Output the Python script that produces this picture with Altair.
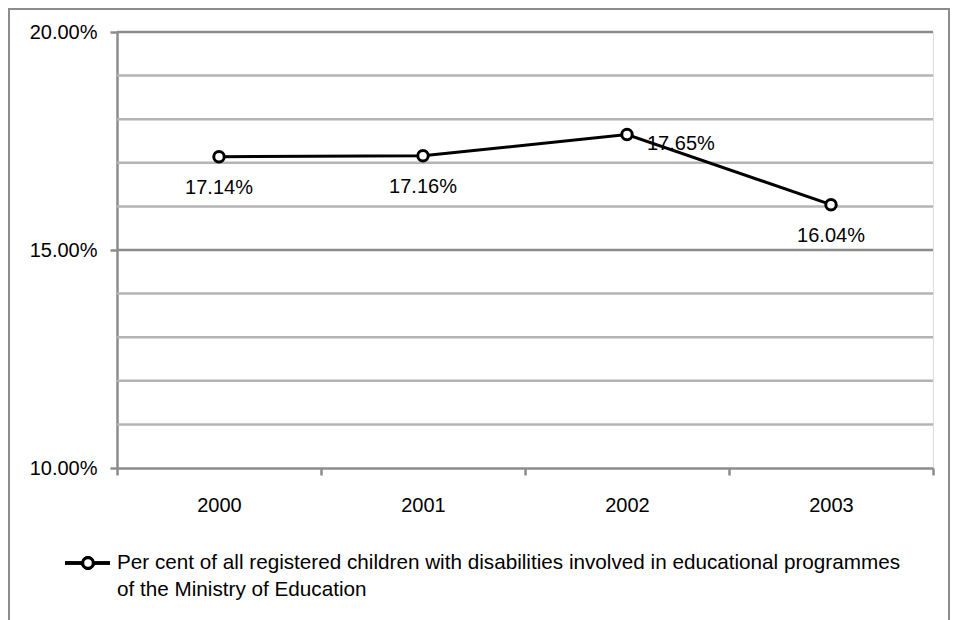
import altair as alt
import pandas as pd

years = ["2000", "2001", "2002", "2003"]
values = [0.1714, 0.1716, 0.1765, 0.1604]
series_name = "Per cent of all registered children with disabilities involved in educational programmes of the Ministry of Education"
legend_lines = ["Per cent of all registered children with disabilities involved in educational programmes",
                "of the Ministry of Education"]
grid_values = [0.11, 0.12, 0.13, 0.14, 0.15, 0.16, 0.17, 0.18, 0.19, 0.20]
major_values = [0.10, 0.15, 0.20]

FONT = "Liberation Sans"
FS = 20
LFS = 20.7

df = pd.DataFrame({"year": years, "value": values, "series": [series_name] * 4})
grid_df = pd.DataFrame({"g": grid_values, "major": [v in (0.15, 0.20) for v in grid_values]})

W, H = 816, 436
yscale = alt.Scale(domain=[0.10, 0.20], zero=False, nice=False)
xenc = alt.X("year:N", sort=years, title=None,
             scale=alt.Scale(paddingInner=0, paddingOuter=0),
             axis=alt.Axis(labelAngle=0, tickBand="extent", labelPadding=20, tickSize=7,
                           domainColor="#8c8c8c", domainWidth=2.5, tickColor="#8c8c8c", tickWidth=2.5,
                           labelFont=FONT, labelFontSize=FS, labelColor="#000", grid=False))
yaxis = alt.Axis(values=major_values, format=".2%", tickSize=7, labelPadding=13,
                 domainColor="#8c8c8c", domainWidth=2.5, tickColor="#8c8c8c", tickWidth=2.5,
                 labelFont=FONT, labelFontSize=FS, labelColor="#000", grid=False)

grid = alt.Chart(grid_df).mark_rule(strokeWidth=2.5).encode(
    y=alt.Y("g:Q", scale=yscale, title=None, axis=yaxis),
    color=alt.condition("datum.major", alt.value("#8c8c8c"), alt.value("#b4b4b4")),
)

base = alt.Chart(df).encode(x=xenc, y=alt.Y("value:Q", scale=yscale, title=None, axis=yaxis))

line = base.mark_line(color="#000", strokeWidth=3)
pts = base.mark_point(shape="circle", filled=True, fill="#fff", stroke="#000", strokeWidth=3, size=110, opacity=1)

labels_below = base.transform_filter("datum.year != '2002'").mark_text(
    font=FONT, fontSize=FS, color="#000", baseline="middle", dy=31
).encode(text=alt.Text("value:Q", format=".2%"))
label_right = base.transform_filter("datum.year == '2002'").mark_text(
    font=FONT, fontSize=FS, color="#000", baseline="middle", align="left", dx=20, dy=10
).encode(text=alt.Text("value:Q", format=".2%"))

border = alt.Chart(df).mark_rect(fill=None, stroke="#8c8c8c", strokeWidth=2).encode(
    x=alt.value(-108), x2=alt.value(832), y=alt.value(-23), y2=alt.value(620)
)

leg_line = alt.Chart(df).mark_rule(color="#000", strokeWidth=3).encode(
    x=alt.value(-52), x2=alt.value(-7), y=alt.value(531)
)
leg_pt = alt.Chart(df).mark_point(shape="circle", filled=True, fill="#fff", stroke="#000",
                                   strokeWidth=3, size=110, opacity=1).encode(
    x=alt.value(-29), y=alt.value(531)
)
leg_text = alt.Chart(pd.DataFrame({"t": [legend_lines]})).mark_text(
    font=FONT, fontSize=LFS, color="#000", align="left", baseline="middle", lineHeight=27
).encode(x=alt.value(0), y=alt.value(531), text="t:N")

chart = alt.layer(border, grid, line, pts, labels_below, label_right,
                  leg_line, leg_pt, leg_text).properties(
    width=W, height=H,
    autosize=alt.AutoSizeParams(type="none"),
    padding={"left": 109, "top": 24, "right": 17, "bottom": 152},
).configure_view(stroke=None).configure(background="#fff")

chart.save("out.html", embed_options={"renderer": "svg", "actions": False})
